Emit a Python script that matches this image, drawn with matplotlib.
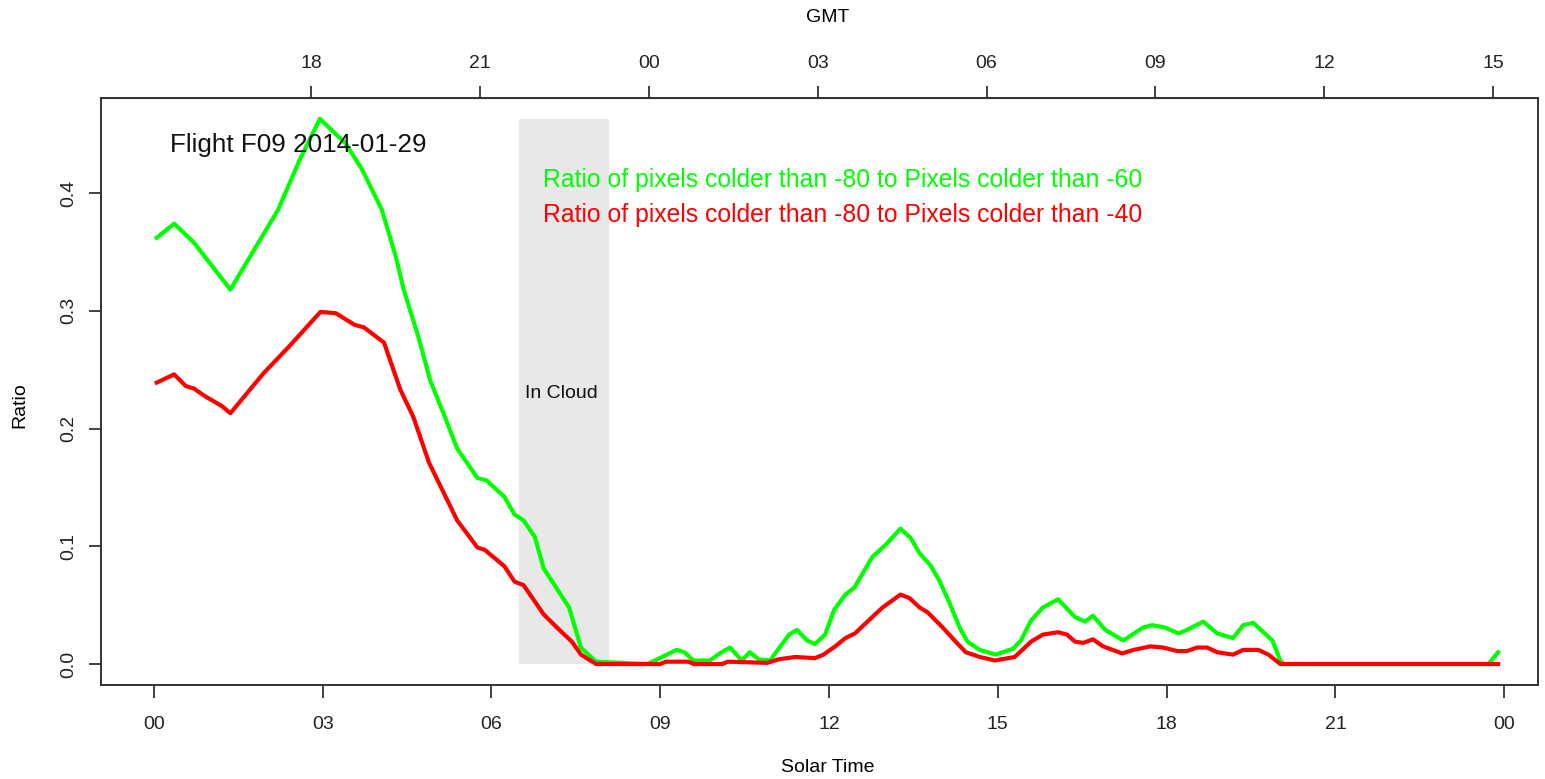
import matplotlib
matplotlib.use("Agg")
import matplotlib.pyplot as plt

plt.rcParams['font.family'] = ['Liberation Sans', 'DejaVu Sans']

# solar time (hours) and ratio
green_t = [0.05, 0.36, 0.71, 1.36, 2.21, 2.59, 2.95, 3.41, 3.70, 4.05, 4.30, 4.44, 4.70, 4.91,
           5.18, 5.39, 5.75, 5.91, 6.23, 6.41, 6.57, 6.77, 6.93, 7.38, 7.59, 7.86, 8.77, 9.29,
           9.43, 9.59, 9.88, 10.09, 10.24, 10.45, 10.59, 10.75, 10.95, 11.29, 11.43, 11.61,
           11.75, 11.93, 12.09, 12.29, 12.45, 12.77, 13.00, 13.27, 13.45, 13.61, 13.80, 13.96,
           14.14, 14.32, 14.46, 14.68, 14.96, 15.27, 15.41, 15.59, 15.80, 16.07, 16.37, 16.55,
           16.69, 16.91, 17.23, 17.39, 17.58, 17.74, 17.97, 18.21, 18.36, 18.65, 18.90, 19.18,
           19.36, 19.54, 19.72, 19.88, 20.02, 20.08, 23.72, 23.89]
green_v = [0.362, 0.374, 0.358, 0.318, 0.386, 0.428, 0.463, 0.442, 0.420, 0.386, 0.346, 0.318,
           0.278, 0.241, 0.209, 0.183, 0.158, 0.156, 0.142, 0.127, 0.122, 0.108, 0.081, 0.048,
           0.014, 0.002, 0.0, 0.012, 0.010, 0.003, 0.003, 0.010, 0.014, 0.003, 0.010, 0.004,
           0.003, 0.025, 0.029, 0.020, 0.017, 0.025, 0.046, 0.059, 0.065, 0.091, 0.101, 0.115,
           0.107, 0.094, 0.084, 0.071, 0.052, 0.031, 0.019, 0.012, 0.008, 0.013, 0.020, 0.037,
           0.048, 0.055, 0.040, 0.036, 0.041, 0.029, 0.020, 0.025, 0.031, 0.033, 0.031, 0.026,
           0.029, 0.036, 0.026, 0.022, 0.033, 0.035, 0.027, 0.020, 0.003, 0.0, 0.0, 0.010]

red_t = [0.05, 0.36, 0.57, 0.71, 0.89, 1.21, 1.36, 1.95, 2.39, 2.96, 3.23, 3.57, 3.73, 4.09,
         4.38, 4.61, 4.89, 5.39, 5.75, 5.88, 6.23, 6.41, 6.57, 6.93, 7.25, 7.43, 7.59, 7.86,
         9.0, 9.1, 9.5, 9.6, 10.1, 10.2, 10.9, 11.1, 11.4, 11.75, 11.9, 12.11, 12.29, 12.46,
         12.77, 12.95, 13.27, 13.43, 13.61, 13.75, 14.02, 14.25, 14.43, 14.68, 14.95, 15.30,
         15.59, 15.80, 16.07, 16.23, 16.37, 16.52, 16.69, 16.87, 17.21, 17.41, 17.71, 17.94,
         18.19, 18.36, 18.54, 18.72, 18.90, 19.18, 19.36, 19.63, 19.81, 20.02, 23.89]
red_v = [0.239, 0.246, 0.236, 0.234, 0.228, 0.219, 0.213, 0.247, 0.269, 0.299, 0.298, 0.288,
         0.286, 0.273, 0.233, 0.210, 0.171, 0.122, 0.099, 0.097, 0.083, 0.070, 0.067, 0.042,
         0.027, 0.019, 0.008, 0.0, 0.0, 0.002, 0.002, 0.0, 0.0, 0.002, 0.001, 0.004, 0.006,
         0.005, 0.008, 0.015, 0.022, 0.026, 0.040, 0.048, 0.059, 0.056, 0.048, 0.044, 0.031,
         0.019, 0.010, 0.006, 0.003, 0.006, 0.019, 0.025, 0.027, 0.025, 0.019, 0.018, 0.021,
         0.015, 0.009, 0.012, 0.015, 0.014, 0.011, 0.011, 0.014, 0.014, 0.010, 0.008, 0.012,
         0.012, 0.008, 0.0, 0.0]

solar_ticks = [0, 3, 6, 9, 12, 15, 18, 21, 24]
solar_labels = ['00', '03', '06', '09', '12', '15', '18', '21', '00']
gmt_labels = ['18', '21', '00', '03', '06', '09', '12', '15']
gmt_hours = [18, 21, 24, 27, 30, 33, 36, 39]
gmt_offset = 8.8 - 24  # solar = gmt + offset

cloud_start, cloud_end, cloud_top = 6.49, 8.09, 0.463

W, H = 1545, 779
fig = plt.figure(figsize=(W / 100, H / 100), dpi=100)
ax = fig.add_axes([101 / W, 1 - 685 / H, (1538 - 101) / W, (685 - 98) / H])

ax.fill_between([cloud_start, cloud_end], 0, cloud_top, color='#e8e8e8', lw=0, zorder=1)
ax.plot(green_t, green_v, color='#00ff00', lw=3.0, solid_joinstyle='round', zorder=3)
ax.plot(red_t, red_v, color='#ff0000', lw=3.0, solid_joinstyle='round', zorder=4)

ax.set_xlim(-0.94, 24.6)
ax.set_ylim(-0.0178, 0.4807)

ax.set_xticks(solar_ticks)
ax.set_xticklabels(solar_labels)
ax.set_yticks([0.0, 0.1, 0.2, 0.3, 0.4])
ax.set_yticklabels(['0.0', '0.1', '0.2', '0.3', '0.4'], rotation=90, va='center')
ax.tick_params(axis='x', direction='out', length=9, width=1.2, labelsize=14, pad=13, colors='#222222')
ax.tick_params(axis='y', direction='out', length=9, width=1.2, labelsize=14, pad=8, colors='#222222')
for s in ax.spines.values():
    s.set_linewidth(1.4)
    s.set_color('#333333')

top = ax.secondary_xaxis('top')
top.set_xticks([g + gmt_offset for g in gmt_hours])
top.set_xticklabels(gmt_labels)
top.tick_params(direction='out', length=9, width=1.2, labelsize=14, pad=10, colors='#222222')

fig.text(828 / W, 1 - 768 / H, 'Solar Time', ha='center', va='center', fontsize=14)
fig.text(828 / W, 1 - 17 / H, 'GMT', ha='center', va='center', fontsize=14)
fig.text(20 / W, 1 - 405 / H, 'Ratio', ha='center', va='center', rotation=90, fontsize=14)

ax.text(0.28, 0.435, 'Flight F09 2014-01-29', fontsize=18.8, va='baseline', color='#111111')
ax.text(7.25, 0.230, 'In Cloud', fontsize=14, ha='center', va='center', color='#111111')
ax.text(6.92, 0.405, 'Ratio of pixels colder than -80 to Pixels colder than -60',
        fontsize=17.8, color='#00ff00', va='baseline')
ax.text(6.92, 0.375, 'Ratio of pixels colder than -80 to Pixels colder than -40',
        fontsize=17.8, color='#ff0000', va='baseline')

fig.savefig('out.png', dpi=100)
